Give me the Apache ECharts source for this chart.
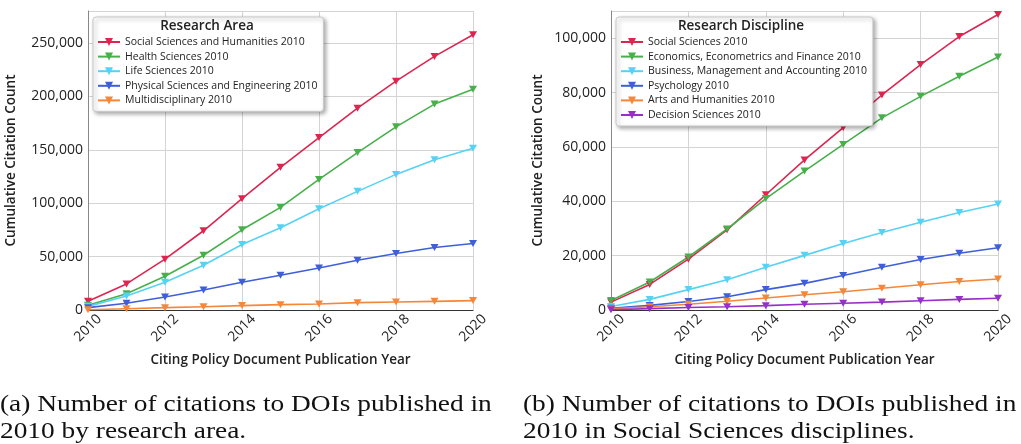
<!DOCTYPE html>
<html><head><meta charset="utf-8">
<script src="https://cdn.jsdelivr.net/npm/echarts@6/dist/echarts.min.js"></script>
<style>html,body{margin:0;padding:0;background:#fff}#c{width:1021px;height:444px}</style>
</head><body><div id="c"></div>
<script>
const years = [2010,2011,2012,2013,2014,2015,2016,2017,2018,2019,2020];

const areaNames = ['Social Sciences and Humanities 2010','Health Sciences 2010','Life Sciences 2010','Physical Sciences and Engineering 2010','Multidisciplinary 2010'];
const socHum = [8100,24400,47600,74200,104200,133600,161500,189000,214300,237500,257800];
const health = [4400,15300,31600,51300,75100,96100,122300,147400,171500,192800,206800];
const life = [3400,13100,26000,41900,61300,77000,94800,111100,127000,140800,151400];
const physical = [2200,6300,12200,18800,26000,32500,39400,46600,52900,58500,62300];
const multi = [300,1200,2200,3100,4100,5000,5600,6900,7500,8100,8800];

const discNames = ['Social Sciences 2010','Economics, Econometrics and Finance 2010','Business, Management and Accounting 2010','Psychology 2010','Arts and Humanities 2010','Decision Sciences 2010'];
const socSci = [2900,9400,18700,29500,42400,55200,67100,79100,90300,100600,108700];
const econ = [3500,10300,19500,29800,41000,51100,60900,70700,78600,86000,93100];
const business = [1300,3900,7500,11100,15700,20100,24500,28500,32300,35900,39000];
const psych = [600,1700,3100,4900,7500,9800,12700,15700,18600,20900,22900];
const arts = [400,1200,2100,3200,4400,5600,6700,8000,9300,10500,11400];
const decision = [100,500,900,1200,1600,2100,2500,2900,3400,3900,4300];

const areaValues = [socHum, health, life, physical, multi];
const discValues = [socSci, econ, business, psych, arts, decision];
const areaColors = ['#dc2650','#47b04b','#56d2f5','#3f5fd8','#f5873a'];
const discColors = ['#dc2650','#47b04b','#56d2f5','#3f5fd8','#f5873a','#9630c8'];

const yTitle = 'Cumulative Citation Count';
const xTitle = 'Citing Policy Document Publication Year';
const captionA = ['(a) Number of citations to DOIs published in','2010 by research area.'];
const captionB = ['(b) Number of citations to DOIs published in','2010 in Social Sciences disciplines.'];

const FONT = 'Open Sans';
const tri = 'path://M0,0 L10,0 L5,9 Z';

function mkSeries(names, vals, colors, idx){
  return names.map((n,i)=>({
    name:n, type:'line', xAxisIndex:idx, yAxisIndex:idx,
    data: years.map((y,j)=>[y, vals[i][j]]),
    symbol: tri, symbolSize:[8,7], showSymbol:true,
    lineStyle:{width:1.6,color:colors[i]}, itemStyle:{color:colors[i]},
    animation:false
  }));
}

function xAx(idx){
  return {type:'value', gridIndex:idx, min:2010, max:2020, interval:2,
    name:xTitle, nameLocation:'middle', nameGap:43,
    nameTextStyle:{fontFamily:FONT, fontSize:13.5, fontWeight:600, color:'#222'},
    axisLine:{lineStyle:{color:'#333', width:1.2}}, axisTick:{show:false},
    axisLabel:{formatter:v=>String(v), rotate:45, align:'center', verticalAlign:'middle', margin:18,
      fontFamily:FONT, fontSize:14, color:'#222'},
    splitLine:{show:true, lineStyle:{color:'#d4d4d4', width:1}}};
}
function yAx(idx, max, step, gap){
  return {type:'value', gridIndex:idx, min:0, max:max, interval:step,
    name:yTitle, nameLocation:'middle', nameGap:gap,
    nameTextStyle:{fontFamily:FONT, fontSize:13.5, fontWeight:600, color:'#222'},
    axisLine:{show:true, lineStyle:{color:'#888', width:1}}, axisTick:{show:false},
    axisLabel:{formatter:v=> (v % step === 0 ? v.toLocaleString('en-US') : ''), margin:5,
      fontFamily:FONT, fontSize:14, color:'#222'},
    splitLine:{show:true, lineStyle:{color:'#d4d4d4', width:1}}};
}
function legend(names, left, top){
  return {data:names, orient:'vertical', left:left, top:top,
    padding:[18,6,4,4], itemGap:0.6, itemWidth:22, itemHeight:10,
    backgroundColor:'#fff', borderColor:'#c8c8c8', borderWidth:1, borderRadius:3,
    shadowBlur:4, shadowColor:'rgba(0,0,0,0.35)', shadowOffsetX:2, shadowOffsetY:2,
    textStyle:{fontFamily:FONT, fontSize:10.5, color:'#222', lineHeight:14}};
}
function cap(text, x, y){
  return {type:'text', x:x, y:y, scaleX:1.19, style:{text:text, textVerticalAlign:'middle', font:'23px "Liberation Serif"', fill:'#111'}};
}

const chart = echarts.init(document.getElementById('c'), null, {renderer:'canvas'});
chart.setOption({
  animation:false,
  grid:[{left:88, right:548, top:11, bottom:134},{left:611, right:23, top:11, bottom:134}],
  xAxis:[xAx(0), xAx(1)],
  yAxis:[yAx(0, 280000, 50000, 70), yAx(1, 110000, 20000, 66)],
  legend:[legend(areaNames, 93, 17), legend(discNames, 616, 17)],
  series:[...mkSeries(areaNames, areaValues, areaColors, 0), ...mkSeries(discNames, discValues, discColors, 1)],
  graphic:[
    {type:'text', x:207, y:26, z:100, style:{text:'Research Area', textAlign:'center', textVerticalAlign:'middle', font:'600 13.5px "Open Sans"', fill:'#222'}},
    {type:'text', x:741, y:26, z:100, style:{text:'Research Discipline', textAlign:'center', textVerticalAlign:'middle', font:'600 13.5px "Open Sans"', fill:'#222'}},
    cap(captionA[0], 0, 405), cap(captionA[1], 0, 432),
    cap(captionB[0], 523, 405), cap(captionB[1], 523, 432)
  ]
});
</script></body></html>
